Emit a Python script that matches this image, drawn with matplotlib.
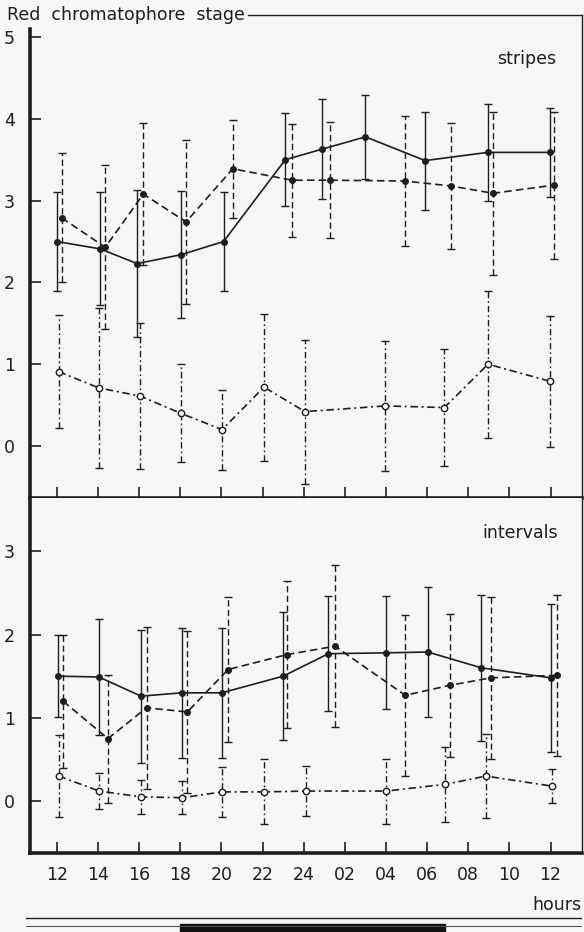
"""
Red chromatophore stage over 24 h: stripes and intervals
"""

import matplotlib

matplotlib.use("Agg")

import matplotlib.pyplot as plt
from matplotlib.lines import Line2D
from matplotlib.patches import Rectangle


# hours are counted on from noon, so 26 = 02 h and 36 = 12 h the next day
HOUR_TICKS = [12, 14, 16, 18, 20, 22, 24, 26, 28, 30, 32, 34, 36]
HOUR_LABELS = ["12", "14", "16", "18", "20", "22", "24",
               "02", "04", "06", "08", "10", "12"]

# stripes
stripes_solid_x = [12.0, 14.1, 15.9, 18.05, 20.1, 23.1, 24.9, 27.0, 29.9, 32.95, 35.95]
stripes_solid_y = [2.50, 2.41, 2.23, 2.34, 2.50, 3.50, 3.63, 3.78, 3.49, 3.59, 3.59]
stripes_solid_err = [0.60, 0.69, 0.90, 0.78, 0.60, 0.57, 0.61, 0.51, 0.60, 0.59, 0.54]

stripes_dash_x = [12.23, 14.35, 16.2, 18.28, 20.55, 23.42, 25.3, 28.9, 31.15, 33.2, 36.17]
stripes_dash_y = [2.79, 2.43, 3.08, 2.74, 3.39, 3.25, 3.25, 3.24, 3.18, 3.09, 3.19]
stripes_dash_err = [0.79, 1.00, 0.87, 1.00, 0.60, 0.69, 0.71, 0.80, 0.77, 1.00, 0.90]

stripes_open_x = [12.08, 14.04, 16.05, 18.02, 20.03, 22.07, 24.06, 27.97, 30.84, 32.96, 35.99]
stripes_open_y = [0.91, 0.71, 0.61, 0.40, 0.20, 0.72, 0.42, 0.49, 0.47, 1.00, 0.79]
stripes_open_err = [0.69, 0.98, 0.89, 0.60, 0.49, 0.90, 0.88, 0.79, 0.71, 0.90, 0.80]

# intervals
intervals_solid_x = [12.05, 14.04, 16.09, 18.07, 20.02, 23.0, 25.2, 28.0, 30.03, 32.64, 36.0]
intervals_solid_y = [1.50, 1.49, 1.26, 1.30, 1.30, 1.50, 1.77, 1.78, 1.79, 1.60, 1.48]
intervals_solid_err = [0.49, 0.70, 0.80, 0.78, 0.78, 0.77, 0.69, 0.68, 0.78, 0.88, 0.89]

intervals_dash_x = [12.3, 14.48, 16.36, 18.34, 20.32, 23.2, 25.52, 28.94, 31.1, 33.1, 36.3]
intervals_dash_y = [1.20, 0.75, 1.12, 1.07, 1.58, 1.76, 1.86, 1.27, 1.39, 1.48, 1.51]
intervals_dash_err = [0.80, 0.77, 0.97, 0.97, 0.87, 0.88, 0.97, 0.97, 0.86, 0.97, 0.97]

intervals_open_x = [12.08, 14.06, 16.09, 18.1, 20.03, 22.08, 24.1, 28.0, 30.87, 32.86, 36.05]
intervals_open_y = [0.30, 0.12, 0.05, 0.04, 0.11, 0.11, 0.12, 0.12, 0.20, 0.30, 0.18]
intervals_open_err = [0.49, 0.22, 0.20, 0.20, 0.30, 0.39, 0.30, 0.39, 0.45, 0.50, 0.20]


INK = "#1e1e1e"
PAPER = "#f6f6f4"
DASHED = (0, (4.5, 2.5))
DASHDOT = (0, (4.5, 2.2, 1.2, 2.2))
FONT_SIZE = 12.5

W, H = 584, 932


def px_x(x):
    return x / W


def px_y(y):
    return 1 - y / H


def draw_series(ax, x, y, err, style, hollow=False):
    eb = ax.errorbar(
        x, y, yerr=err, fmt="none", ecolor=INK,
        elinewidth=1.0, capsize=3, capthick=1.0, zorder=2,
    )
    eb[2][0].set_linestyle(style)
    ax.plot(
        x, y, color=INK, lw=1.2, linestyle=style,
        marker="o", markersize=4.6 if hollow else 4.0,
        markerfacecolor=PAPER if hollow else INK,
        markeredgecolor=INK, markeredgewidth=1.0, zorder=3,
    )


def style_axes(ax, ylim, yticks):
    ax.set_facecolor(PAPER)
    ax.set_xlim(10.69, 37.53)
    ax.set_ylim(*ylim)
    ax.set_yticks(yticks)
    ax.set_xticks(HOUR_TICKS)
    ax.tick_params(axis="both", direction="in", colors=INK,
                   labelsize=FONT_SIZE, length=8, width=1.2)
    ax.tick_params(axis="y", pad=11)
    ax.tick_params(axis="x", pad=9)
    ax.spines["left"].set_linewidth(2.6)
    ax.spines["bottom"].set_linewidth(2.6)
    ax.spines["right"].set_linewidth(1.0)
    for side in ax.spines:
        ax.spines[side].set_color(INK)


plt.rcParams["font.family"] = ["DejaVu Sans"]
fig = plt.figure(figsize=(W / 100, H / 100), dpi=100, facecolor=PAPER)

ax_top = fig.add_axes([px_x(30), px_y(498), px_x(552), px_y(15) - px_y(498)])
ax_bot = fig.add_axes([px_x(30), px_y(853), px_x(552), px_y(498) - px_y(853)])

style_axes(ax_top, (-0.636, 5.27), [0, 1, 2, 3, 4, 5])
style_axes(ax_bot, (-0.624, 3.64), [0, 1, 2, 3])

ax_top.spines["top"].set_visible(False)
ax_top.spines["left"].set_bounds(-0.636, 5.10)
ax_top.set_xticklabels([])
ax_bot.spines["top"].set_visible(False)
ax_bot.set_xticklabels(HOUR_LABELS)

draw_series(ax_top, stripes_solid_x, stripes_solid_y, stripes_solid_err, "-")
draw_series(ax_top, stripes_dash_x, stripes_dash_y, stripes_dash_err, DASHED)
draw_series(ax_top, stripes_open_x, stripes_open_y, stripes_open_err, DASHDOT, hollow=True)

draw_series(ax_bot, intervals_solid_x, intervals_solid_y, intervals_solid_err, "-")
draw_series(ax_bot, intervals_dash_x, intervals_dash_y, intervals_dash_err, DASHED)
draw_series(ax_bot, intervals_open_x, intervals_open_y, intervals_open_err, DASHDOT, hollow=True)

ax_top.text(0.953, 0.909, "stripes", transform=ax_top.transAxes,
            ha="right", va="center", fontsize=FONT_SIZE, color=INK)
ax_bot.text(0.957, 0.901, "intervals", transform=ax_bot.transAxes,
            ha="right", va="center", fontsize=FONT_SIZE, color=INK)

fig.text(px_x(7), px_y(15), "Red  chromatophore  stage", ha="left", va="center",
         fontsize=FONT_SIZE, color=INK)
fig.add_artist(Line2D([px_x(248), px_x(582)], [px_y(15), px_y(15)],
                      color=INK, lw=1.0))
fig.text(px_x(581), px_y(905), "hours", ha="right", va="center",
         fontsize=FONT_SIZE, color=INK)

# page edge at the bottom of the scan
fig.add_artist(Line2D([px_x(26), px_x(581)], [px_y(918), px_y(918)],
                      color=INK, lw=1.0))
fig.add_artist(Line2D([px_x(26), px_x(581)], [px_y(926), px_y(926)],
                      color="#555555", lw=0.8))
fig.add_artist(Rectangle((px_x(180), 0), px_x(265), px_y(924), color="#111111",
                         transform=fig.transFigure))

fig.savefig("out.png", dpi=100, facecolor=PAPER)
